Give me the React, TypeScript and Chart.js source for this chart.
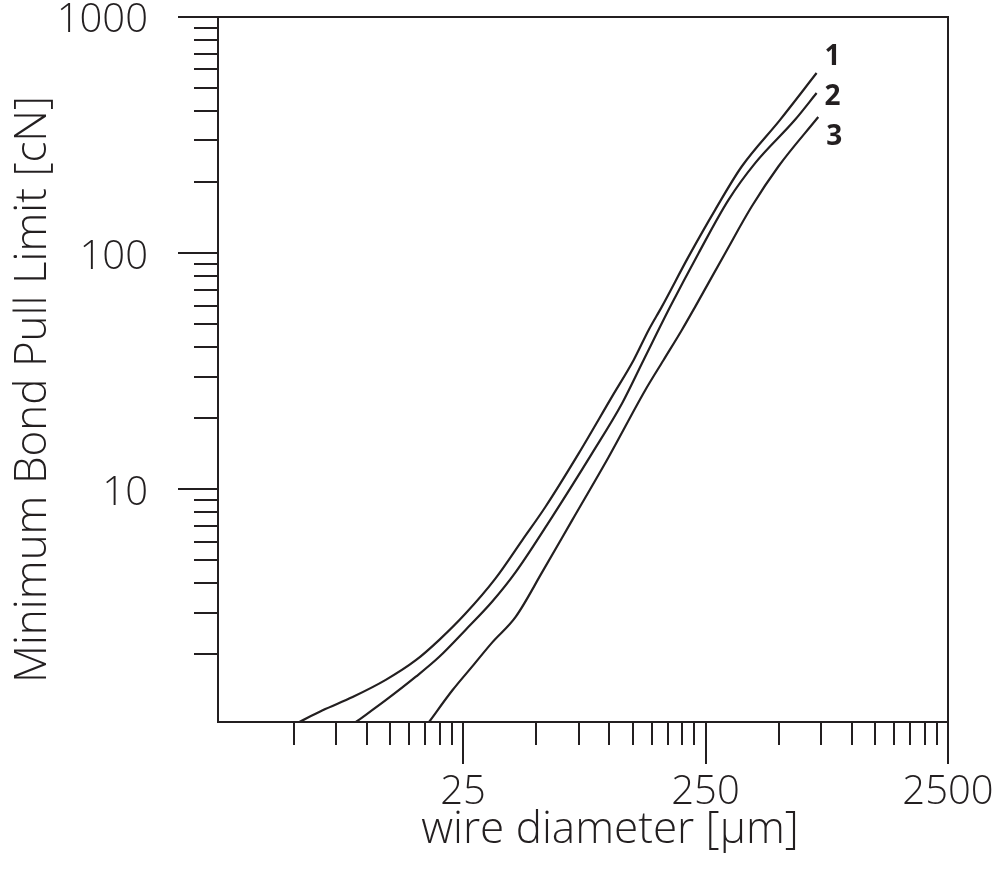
import React, { useEffect, useRef } from "react";
import { Chart, registerables } from "chart.js";

Chart.register(...registerables);

// ---- data ----
const curve1X = [5.28, 6.59, 8.76, 12.0, 15.97, 19.9, 25.6, 34.1, 43.9, 54.7, 75.0, 102.9, 126.4, 145.7, 165.2, 212.8, 274, 352.6, 507.5, 717.8];
const curve1Y = [1.035, 1.16, 1.32, 1.56, 1.89, 2.3, 2.98, 4.21, 6.1, 8.44, 14.2, 24.7, 35.3, 47.3, 59.4, 96.7, 152.6, 232.8, 367, 579];

const curve2X = [9.04, 12.0, 15.97, 19.9, 25.6, 33.0, 41.2, 58.3, 85.1, 113.1, 138.9, 178.9, 234, 311, 400.5, 584.8, 717.8];
const curve2Y = [1.035, 1.28, 1.61, 1.95, 2.54, 3.35, 4.46, 7.65, 14.2, 23.1, 35.3, 59.4, 100, 168.2, 240.6, 367, 476.4];

const curve3X = [18.1, 22.6, 27.3, 33.0, 41.2, 53.0, 70.5, 99.8, 141.2, 167.9, 199.7, 226.8, 301.3, 387.6, 499.3, 729.3];
const curve3Y = [1.035, 1.41, 1.78, 2.25, 2.885, 4.46, 7.41, 13.75, 26.35, 35.3, 47.3, 59.4, 100, 157.6, 232.8, 377];

const curveLabels = ["1", "2", "3"];

const X_MAJOR_TICKS = [25, 250, 2500];
const X_MINOR_TICKS = [5, 7.5, 10, 12.5, 15, 17.5, 20, 22.5, 50, 75, 100, 125, 150, 175, 200, 225, 500, 750, 1000, 1250, 1500, 1750, 2000, 2250];
const Y_MAJOR_TICKS = [10, 100, 1000];
const Y_MINOR_TICKS = [2, 3, 4, 5, 6, 7, 8, 9, 20, 30, 40, 50, 60, 70, 80, 90, 200, 300, 400, 500, 600, 700, 800, 900];

const X_MIN = 2.44;
const X_MAX = 2500;
const Y_MIN = 1.035;
const Y_MAX = 1000;

const X_TITLE = "wire diameter [µm]";
const Y_TITLE = "Minimum Bond Pull Limit [cN]";

// ---- styles ----
const INK = "#231f20";
const FONT = '"Open Sans", "DejaVu Sans", sans-serif';

const toPoints = (xs: number[], ys: number[]) => xs.map((x, i) => ({ x, y: ys[i] }));

const labelPlugin = {
  id: "curveLabels",
  afterDatasetsDraw(chart: any) {
    const { ctx } = chart;
    const first = chart.getDatasetMeta(0).data;
    if (!first.length) return;
    const topY = first[first.length - 1].y - 16;
    ctx.save();
    ctx.fillStyle = INK;
    ctx.font = `bold 28px ${FONT}`;
    ctx.textAlign = "left";
    ctx.textBaseline = "middle";
    chart.data.datasets.forEach((ds: any, i: number) => {
      const pts = chart.getDatasetMeta(i).data;
      const last = pts[pts.length - 1];
      ctx.fillText(ds.label, last.x + 8, topY + i * 40);
    });
    ctx.restore();
  },
};

const titlePlugin = {
  id: "axisTitles",
  afterDraw(chart: any) {
    const { ctx, chartArea } = chart;
    ctx.save();
    ctx.fillStyle = INK;
    ctx.font = `300 44px ${FONT}`;
    ctx.textAlign = "center";
    ctx.textBaseline = "middle";
    ctx.fillText(X_TITLE, (chartArea.left + chartArea.right) / 2 + 27, chartArea.bottom + 108);
    ctx.translate(33, (chartArea.top + chartArea.bottom) / 2 + 20);
    ctx.rotate(-Math.PI / 2);
    ctx.fillText(Y_TITLE, 0, 0);
    ctx.restore();
  },
};

const setTicks = (values: number[]) => (scale: any) => {
  scale.ticks = values.map((v) => ({ value: v }));
};

const fixSize = (dim: "width" | "height", size: number) => (s: any) => {
  s[dim] = size;
  s.paddingLeft = 0;
  s.paddingRight = 0;
  s.paddingTop = 0;
  s.paddingBottom = 0;
};

export default function App() {
  const ref = useRef<HTMLCanvasElement | null>(null);

  useEffect(() => {
    if (!ref.current) return;
    const lineDs = (label: string, xs: number[], ys: number[]) => ({
      label,
      data: toPoints(xs, ys),
      borderColor: INK,
      borderWidth: 2.2,
      pointRadius: 0,
      fill: false,
      cubicInterpolationMode: "monotone" as const,
    });
    const tickFont = { family: FONT, size: 40, weight: "300" };
    const chart = new Chart(ref.current, {
      type: "line",
      data: {
        datasets: [
          lineDs(curveLabels[0], curve1X, curve1Y),
          lineDs(curveLabels[1], curve2X, curve2Y),
          lineDs(curveLabels[2], curve3X, curve3Y),
        ],
      },
      options: {
        animation: false,
        responsive: false,
        layout: { padding: { top: 17, right: 46, left: 0, bottom: 0 } },
        plugins: { legend: { display: false }, tooltip: { enabled: false } },
        scales: {
          x: {
            type: "logarithmic",
            position: "bottom",
            weight: 1,
            min: X_MIN,
            max: X_MAX,
            afterBuildTicks: setTicks(X_MAJOR_TICKS),
            afterFit: fixSize("height", 154),
            grid: { display: true, drawOnChartArea: false, drawTicks: true, tickLength: 42, color: INK, lineWidth: 2 },
            border: { display: true, color: INK, width: 2 },
            ticks: {
              autoSkip: false,
              maxRotation: 0,
              padding: 5,
              color: INK,
              font: tickFont,
              callback: (v: any) => String(v),
            },
          },
          xMinor: {
            type: "logarithmic",
            position: "bottom",
            weight: 0,
            min: X_MIN,
            max: X_MAX,
            afterBuildTicks: setTicks(X_MINOR_TICKS),
            afterFit: fixSize("height", 0),
            grid: { display: true, drawOnChartArea: false, drawTicks: true, tickLength: 23, color: INK, lineWidth: 2 },
            border: { display: true, color: INK, width: 2 },
            ticks: { display: false, autoSkip: false },
          },
          xTop: {
            type: "linear",
            position: "top",
            afterFit: fixSize("height", 0),
            grid: { display: false },
            border: { display: true, color: INK, width: 2 },
            ticks: { display: false },
          },
          y: {
            type: "logarithmic",
            position: "left",
            weight: 1,
            min: Y_MIN,
            max: Y_MAX,
            afterBuildTicks: setTicks(Y_MAJOR_TICKS),
            afterFit: fixSize("width", 218),
            grid: { display: true, drawOnChartArea: false, drawTicks: true, tickLength: 40, color: INK, lineWidth: 2 },
            border: { display: true, color: INK, width: 2 },
            ticks: {
              autoSkip: false,
              padding: 30,
              labelOffset: 4,
              color: INK,
              font: tickFont,
              callback: (v: any) => String(v),
            },
          },
          yMinor: {
            type: "logarithmic",
            position: "left",
            weight: 0,
            min: Y_MIN,
            max: Y_MAX,
            afterBuildTicks: setTicks(Y_MINOR_TICKS),
            afterFit: fixSize("width", 0),
            grid: { display: true, drawOnChartArea: false, drawTicks: true, tickLength: 24, color: INK, lineWidth: 2 },
            border: { display: true, color: INK, width: 2 },
            ticks: { display: false, autoSkip: false },
          },
          yRight: {
            type: "linear",
            position: "right",
            afterFit: fixSize("width", 0),
            grid: { display: false },
            border: { display: true, color: INK, width: 2 },
            ticks: { display: false },
          },
        },
      } as any,
      plugins: [labelPlugin, titlePlugin],
    });
    return () => chart.destroy();
  }, []);

  return (
    <div style={{ position: "absolute", left: 0, top: 0, width: 994, height: 876, background: "#fff" }}>
      <canvas ref={ref} width={994} height={876} style={{ width: 994, height: 876, display: "block" }} />
    </div>
  );
}
